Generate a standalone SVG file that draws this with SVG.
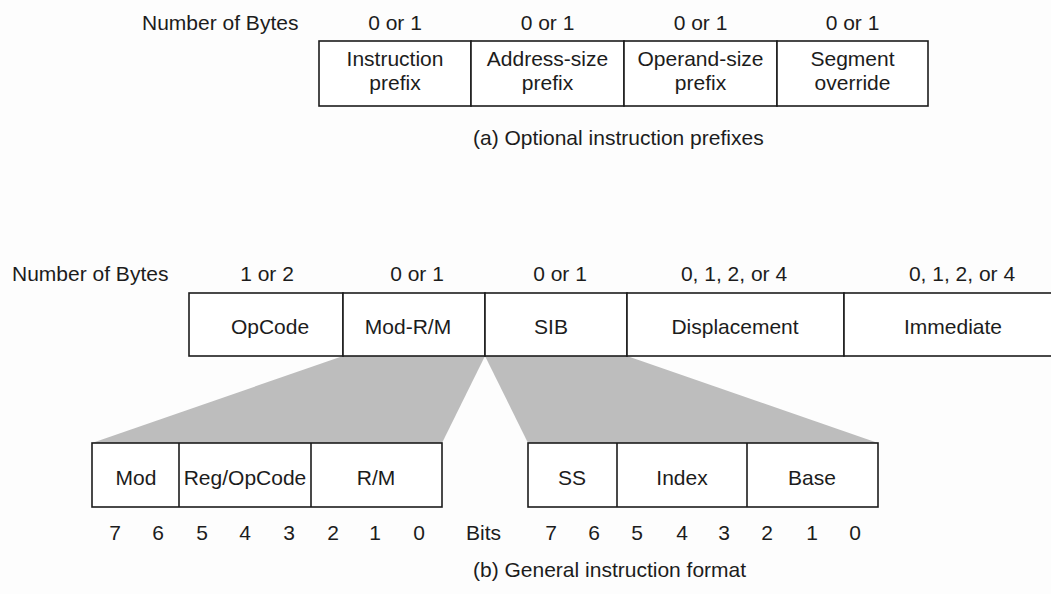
<svg xmlns="http://www.w3.org/2000/svg" width="1051" height="594" viewBox="0 0 1051 594">
  <style>
    text { font-family: "Liberation Sans", Arial, Helvetica, sans-serif; font-size: 21px; fill: #1c1c1c; }
    .c { text-anchor: middle; }
    .box { fill: #ffffff; stroke: #1c1c1c; stroke-width: 1.6; }
    .div { stroke: #1c1c1c; stroke-width: 1.6; fill: none; }
    .fan { fill: #bdbdbd; stroke: none; }
  </style>
  <rect x="0" y="0" width="1051" height="594" fill="#fdfdfd"/>

  <!-- (a) optional prefixes -->
  <g id="prefix-row">
    <text x="142" y="30">Number of Bytes</text>
    <g id="instruction-prefix">
      <rect class="box" x="319" y="41" width="152" height="65"/>
      <text class="c" x="395" y="30">0 or 1</text>
      <text class="c" x="395" y="66">Instruction</text>
      <text class="c" x="395" y="90">prefix</text>
    </g>
    <g id="address-size-prefix">
      <rect class="box" x="471" y="41" width="153" height="65"/>
      <text class="c" x="547.5" y="30">0 or 1</text>
      <text class="c" x="547.5" y="66">Address-size</text>
      <text class="c" x="547.5" y="90">prefix</text>
    </g>
    <g id="operand-size-prefix">
      <rect class="box" x="624" y="41" width="153" height="65"/>
      <text class="c" x="700.5" y="30">0 or 1</text>
      <text class="c" x="700.5" y="66">Operand-size</text>
      <text class="c" x="700.5" y="90">prefix</text>
    </g>
    <g id="segment-override">
      <rect class="box" x="777" y="41" width="151" height="65"/>
      <text class="c" x="852.5" y="30">0 or 1</text>
      <text class="c" x="852.5" y="66">Segment</text>
      <text class="c" x="852.5" y="90">override</text>
    </g>
    <text x="473" y="145">(a) Optional instruction prefixes</text>
  </g>

  <!-- expansion fans from Mod-R/M and SIB -->
  <g id="connectors">
    <path class="fan" d="M343,356 L485,356 L442,443 L92,443 Z"/>
    <path class="fan" d="M485,356 L627,356 L878,443 L528,443 Z"/>
  </g>

  <!-- (b) general instruction format -->
  <g id="format-row">
    <text x="12" y="281">Number of Bytes</text>
    <g id="opcode">
      <rect class="box" x="189" y="293" width="154" height="63"/>
      <text class="c" x="267" y="281">1 or 2</text>
      <text class="c" x="270" y="334">OpCode</text>
    </g>
    <g id="mod-rm">
      <rect class="box" x="343" y="293" width="142" height="63"/>
      <text class="c" x="417" y="281">0 or 1</text>
      <text class="c" x="408" y="334">Mod-R/M</text>
    </g>
    <g id="sib">
      <rect class="box" x="485" y="293" width="142" height="63"/>
      <text class="c" x="560" y="281">0 or 1</text>
      <text class="c" x="551" y="334">SIB</text>
    </g>
    <g id="displacement">
      <rect class="box" x="627" y="293" width="217" height="63"/>
      <text class="c" x="734" y="281">0, 1, 2, or 4</text>
      <text class="c" x="735" y="334">Displacement</text>
    </g>
    <g id="immediate">
      <rect class="box" x="844" y="293" width="220" height="63"/>
      <text class="c" x="962" y="281">0, 1, 2, or 4</text>
      <text class="c" x="953" y="334">Immediate</text>
    </g>
  </g>

  <!-- Mod-R/M byte fields -->
  <g id="modrm-byte">
    <rect class="box" x="92" y="443" width="350" height="64"/>
    <line class="div" x1="179" y1="443" x2="179" y2="507"/>
    <line class="div" x1="311" y1="443" x2="311" y2="507"/>
    <text class="c" x="136" y="485">Mod</text>
    <text class="c" x="245" y="485">Reg/OpCode</text>
    <text class="c" x="376" y="485">R/M</text>
    <g class="bits">
      <text class="c" x="115" y="540">7</text>
      <text class="c" x="158" y="540">6</text>
      <text class="c" x="202" y="540">5</text>
      <text class="c" x="245" y="540">4</text>
      <text class="c" x="289" y="540">3</text>
      <text class="c" x="333" y="540">2</text>
      <text class="c" x="375" y="540">1</text>
      <text class="c" x="419" y="540">0</text>
    </g>
  </g>

  <text x="466" y="540">Bits</text>

  <!-- SIB byte fields -->
  <g id="sib-byte">
    <rect class="box" x="528" y="443" width="350" height="64"/>
    <line class="div" x1="617" y1="443" x2="617" y2="507"/>
    <line class="div" x1="747" y1="443" x2="747" y2="507"/>
    <text class="c" x="572" y="485">SS</text>
    <text class="c" x="682" y="485">Index</text>
    <text class="c" x="812" y="485">Base</text>
    <g class="bits">
      <text class="c" x="551" y="540">7</text>
      <text class="c" x="594" y="540">6</text>
      <text class="c" x="637" y="540">5</text>
      <text class="c" x="682" y="540">4</text>
      <text class="c" x="724" y="540">3</text>
      <text class="c" x="767" y="540">2</text>
      <text class="c" x="812" y="540">1</text>
      <text class="c" x="855" y="540">0</text>
    </g>
  </g>

  <text x="473" y="577">(b) General instruction format</text>
</svg>
